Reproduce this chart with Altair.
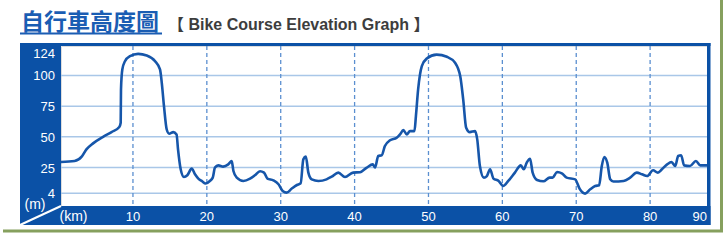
import altair as alt
import pandas as pd

# ---- data ----
km = [0.26, 2.1, 3.06, 3.7, 4.6, 6.0, 7.1, 8.15, 8.34, 8.38, 8.56, 8.92, 9.6, 10.7, 11.86, 13.0,
      13.66, 13.9, 14.2, 14.57, 14.9, 15.46, 15.9, 16.1, 16.46, 16.9, 17.36, 17.95, 18.4, 18.85,
      19.3, 19.85, 20.4, 20.8, 21.1, 21.55, 22.2, 22.9, 23.37, 23.6, 24.05, 24.94, 25.85, 26.5,
      27.2, 27.74, 28.2, 29.0, 29.7, 30.27, 30.8, 31.5, 32.2, 32.7, 33.06, 33.4, 33.74, 34.2,
      35.1, 36.2, 36.9, 37.8, 38.7, 39.8, 40.74, 41.65, 42.46, 42.77, 43.2, 43.67, 44.1, 44.8,
      45.7, 46.15, 46.6, 47.06, 47.5, 48.1, 48.3, 48.6, 49.1, 49.77, 51.1, 52.5, 53.6, 54.3,
      54.7, 55.1, 55.6, 56.3, 56.6, 56.96, 57.5, 57.9, 58.34, 58.8, 59.5, 60.1, 60.8, 61.7,
      62.5, 62.9, 63.3, 63.75, 64.1, 64.7, 65.55, 66.4, 66.8, 67.4, 68.05, 68.7, 69.85, 70.5,
      71.2, 71.9, 72.56, 73.1, 73.46, 73.8, 74.2, 74.6, 75.03, 76.4, 77.3, 78.2, 78.9, 79.6,
      80.4, 81.05, 81.6, 82.3, 82.9, 83.4, 83.8, 84.2, 84.6, 85.4, 86.2, 86.8, 87.7]
elev = [29.5, 30.3, 33.9, 39.8, 44.7, 50.2, 53.9, 58, 61.5, 88.6, 104.9, 111.6, 115.7, 117.6, 116.3, 111.6,
        104.9, 94, 75, 56, 52.6, 53.9, 52, 39.8, 23.6, 17.3, 18.7, 24.1, 19.5, 16,
        14.1, 12, 14.1, 16.8, 25, 26.8, 25.8, 27.6, 30.3, 22.2, 16.8, 14.1, 16, 18.7,
        22, 20.9, 16, 14.6, 11.4, 5.9, 4.6, 7.9, 10.8, 12.2, 31.7, 33.9, 20.9, 15.4,
        14.1, 15.4, 17.6, 20.9, 17.3, 20.9, 21.2, 25, 27.6, 25, 34.4, 35, 42.5, 47.2,
        49.3, 52, 55.5, 52, 54.7, 54.7, 66.9, 88.6, 107.6, 113.8, 117, 115.2, 110.3, 99.4,
        80.5, 57.5, 53.9, 54.7, 48, 26.3, 16.8, 18.1, 23.6, 16, 14.1, 10, 14.1, 20.9,
        26.8, 23.6, 29, 32.2, 20.9, 14.9, 13.8, 16.8, 16.8, 21.4, 20.3, 16.8, 15.4, 7.3,
        3.8, 7.3, 10, 10.6, 26.3, 33.6, 29, 15.4, 13.6, 14.1, 16.8, 20.9, 19.5, 18.1,
        22.8, 20.9, 23.6, 27.6, 29.5, 26.3, 34.4, 35, 26.8, 26.3, 30.3, 26.8, 26.8]

y_ticks = [4, 25, 50, 75, 100]
y_top = 124
x_ticks = [10, 20, 30, 40, 50, 60, 70, 80]
x_max = 87.7
x_label_last = "90"
title_zh = "自行車高度圖"
title_en = "【 Bike Course Elevation Graph 】"
unit_y = "(m)"
unit_x = "(km)"

BLUE = "#0b51a6"
LINE = "#1656aa"
W, H = 646, 160

df = pd.DataFrame({"km": km, "elev": elev})
one = pd.DataFrame({"a": [0]})
ydf = pd.DataFrame({"v": y_ticks, "t": [str(v) for v in y_ticks]})
ytop = pd.DataFrame({"v": [y_top], "t": [str(y_top)]})
xdf = pd.DataFrame({"v": x_ticks, "t": [str(v) for v in x_ticks]})
xlast = pd.DataFrame({"v": [x_max], "t": [x_label_last]})

xs = alt.Scale(domain=[0.26, x_max], nice=False, zero=False)
ys = alt.Scale(domain=[-6.3, y_top], nice=False, zero=False)

label_font = "Liberation Sans Narrow, Liberation Sans, sans-serif"

hgrid = alt.Chart(ydf).mark_rule(color="#a9c7e8", strokeWidth=1.5).encode(
    y=alt.Y("v:Q", scale=ys, axis=None))

vgrid = alt.Chart(xdf).mark_rule(color="#5b8fd0", strokeWidth=1.3, strokeDash=[4, 3]).encode(
    x=alt.X("v:Q", scale=xs, axis=None))

line = alt.Chart(df).mark_line(color=LINE, strokeWidth=2.6, interpolate="monotone").encode(
    x=alt.X("km:Q", scale=xs, axis=None),
    y=alt.Y("elev:Q", scale=ys, axis=None))

def rect(x1, x2, y1, y2, color):
    return alt.Chart(one).mark_rect(color=color).encode(
        x=alt.value(x1), x2=alt.value(x2), y=alt.value(y1), y2=alt.value(y2))

def rule(x1, x2, y1, y2, color, w):
    return alt.Chart(one).mark_rule(color=color, strokeWidth=w).encode(
        x=alt.value(x1), x2=alt.value(x2), y=alt.value(y1), y2=alt.value(y2))

def text(t, x, y, size, color, font, weight="normal", align="center", baseline="middle"):
    return alt.Chart(one).mark_text(
        text=t, fontSize=size, color=color, font=font, fontWeight=weight,
        align=align, baseline=baseline
    ).encode(x=alt.value(x), y=alt.value(y))

left_band = rect(-41, 0, -3, 179, BLUE)
bottom_band = rect(-41, 649.5, 160, 179, BLUE)
top_border = rect(-41, 649.5, -3, 0, BLUE)
right_border = rect(646, 649.5, -3, 179, BLUE)
diag = rule(-41, 0, 179, 160, "white", 2)

# tick labels (drawn from the tick arrays through the scales)
ylab = alt.Chart(ydf).mark_text(color="white", fontSize=13, font=label_font, align="right",
                                baseline="middle", dy=1).encode(
    x=alt.value(-6), y=alt.Y("v:Q", scale=ys, axis=None), text="t:N")
ylab_top = alt.Chart(ytop).mark_text(color="white", fontSize=13, font=label_font, align="right",
                                     baseline="top", dy=2).encode(
    x=alt.value(-6), y=alt.Y("v:Q", scale=ys, axis=None), text="t:N")
xlab = alt.Chart(xdf).mark_text(color="white", fontSize=13, font=label_font, align="center",
                                baseline="middle").encode(
    x=alt.X("v:Q", scale=xs, axis=None), y=alt.value(170.5), text="t:N")
xlab_last = alt.Chart(xlast).mark_text(color="white", fontSize=13, font=label_font, align="right",
                                       baseline="middle").encode(
    x=alt.X("v:Q", scale=xs, axis=None), y=alt.value(170.5), text="t:N")

m_txt = text(unit_y, -26, 159, 14, "white", "Liberation Sans")
km_txt = text(unit_x, 12.5, 171, 14, "white", "Liberation Sans")

t_zh = text(title_zh, -40, -16, 23, "#1a5db3", "Noto Sans CJK TC", weight="bold",
            align="left", baseline="alphabetic")
t_under = rule(-41, 101, -12.5, -12.5, "#1a5db3", 2)
t_en = text(title_en, 107, -16, 16, "#3d3d3d", "Liberation Sans, Noto Sans CJK TC", weight="bold",
            align="left", baseline="alphabetic")

shadow_r = rule(660.5, 660.5, -46, 185, "#86a05e", 3)
shadow_b = rule(-58, 662, 185, 185, "#86a05e", 3)

chart = alt.layer(
    hgrid, vgrid, line,
    left_band, bottom_band, top_border, right_border, diag,
    ylab, ylab_top, xlab, xlab_last,
    m_txt, km_txt, t_zh, t_under, t_en, shadow_r, shadow_b
).properties(
    width=W, height=H,
    autosize=alt.AutoSizeParams(type="none"),
    padding={"left": 61, "top": 46, "right": 17, "bottom": 35},
).configure_view(stroke=None).configure(background="white")

chart.save("out.html", embed_options={"renderer": "svg", "actions": False})
